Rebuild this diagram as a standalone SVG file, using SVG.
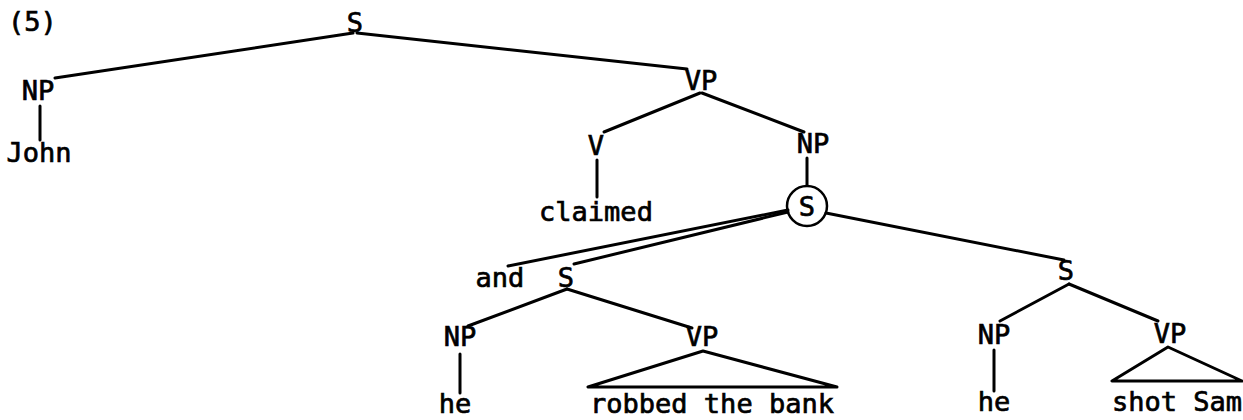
<svg xmlns="http://www.w3.org/2000/svg" width="1243" height="420" viewBox="0 0 1243 420">
<style>
  text { font-family: "DejaVu Sans Mono", "Liberation Mono", monospace; font-size: 27px; fill: #000; stroke: #000; stroke-width: 0.7; text-anchor: middle; }
  .edge { stroke: #000; stroke-width: 3; fill: none; stroke-linecap: round; stroke-linejoin: round; }
</style>
<rect width="1243" height="420" fill="#fff"/>
<text x="8" y="31" style="text-anchor:start">(5)</text>
<g id="connectors">
  <line class="edge" x1="353" y1="33" x2="55" y2="78"/>
  <line class="edge" x1="357" y1="33" x2="687" y2="69"/>
  <line class="edge" x1="40" y1="106" x2="40" y2="140"/>
  <line class="edge" x1="700" y1="93" x2="604" y2="132"/>
  <line class="edge" x1="702" y1="93" x2="804" y2="132"/>
  <line class="edge" x1="597" y1="160" x2="597" y2="197"/>
  <line class="edge" x1="807" y1="158" x2="807" y2="185"/>
  <line class="edge" x1="788" y1="210" x2="508" y2="266"/>
  <line class="edge" x1="788" y1="212" x2="574" y2="264"/>
  <line class="edge" x1="826" y1="213" x2="1064" y2="260"/>
  <line class="edge" x1="567" y1="289" x2="468" y2="326"/>
  <line class="edge" x1="567" y1="289" x2="692" y2="328"/>
  <line class="edge" x1="460" y1="354" x2="460" y2="393"/>
  <polygon class="edge" points="703,351 588,387 837,387"/>
  <line class="edge" x1="1069" y1="284" x2="1000" y2="321"/>
  <line class="edge" x1="1069" y1="284" x2="1158" y2="321"/>
  <line class="edge" x1="994" y1="350" x2="994" y2="391"/>
  <polygon class="edge" points="1168,347 1112,381 1242,381"/>
</g>
<g id="n-S-root"><text x="355" y="32">S</text></g>
<g id="n-NP-john"><text x="38" y="100">NP</text></g>
<g id="n-john"><text x="39" y="162">John</text></g>
<g id="n-VP-main"><text x="701" y="90">VP</text></g>
<g id="n-V"><text x="596" y="155">V</text></g>
<g id="n-claimed"><text x="596" y="221">claimed</text></g>
<g id="n-NP-obj"><text x="813" y="153">NP</text></g>
<g id="n-S-circled"><circle cx="807" cy="206" r="20" fill="none" stroke="#000" stroke-width="2.5"/><text x="807" y="216">S</text></g>
<g id="n-and"><text x="500" y="287">and</text></g>
<g id="n-S-left"><text x="566" y="287">S</text></g>
<g id="n-NP-left"><text x="460" y="346">NP</text></g>
<g id="n-VP-left"><text x="702" y="346">VP</text></g>
<g id="n-he-left"><text x="455" y="413">he</text></g>
<g id="n-robbed"><text x="712" y="413">robbed the bank</text></g>
<g id="n-S-right"><text x="1066" y="280">S</text></g>
<g id="n-NP-right"><text x="994" y="344">NP</text></g>
<g id="n-VP-right"><text x="1170" y="343">VP</text></g>
<g id="n-he-right"><text x="994" y="411">he</text></g>
<g id="n-shot"><text x="1177" y="411">shot Sam</text></g>
</svg>
